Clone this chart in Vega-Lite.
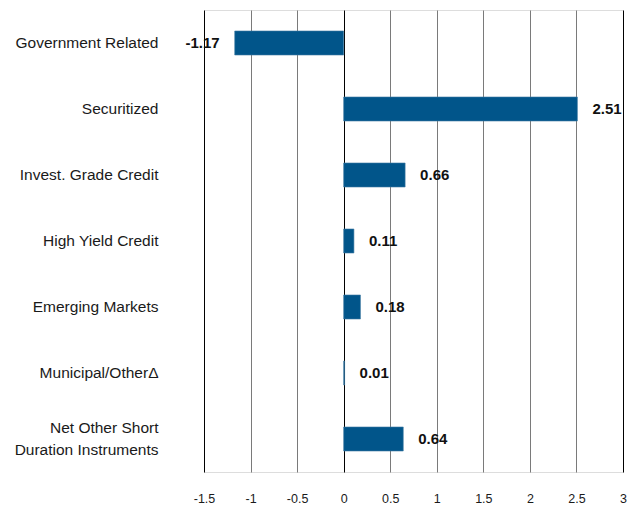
{
  "$schema": "https://vega.github.io/schema/vega-lite/v6.json",
  "width": 419,
  "height": 462,
  "autosize": {"type": "none"},
  "padding": {"left": 204, "top": 10, "right": 20, "bottom": 35},
  "background": "white",
  "title": {
    "text": "Source: PIMCO",
    "orient": "bottom",
    "anchor": "start",
    "frame": "bounds",
    "offset": 1,
    "font": "Liberation Sans",
    "fontSize": 13,
    "fontWeight": "normal",
    "color": "#222222"
  },
  "data": {
    "values": [
      {"category": "Government Related", "value": -1.17, "label": "-1.17"},
      {"category": "Securitized", "value": 2.51, "label": "2.51"},
      {"category": "Invest. Grade Credit", "value": 0.66, "label": "0.66"},
      {"category": "High Yield Credit", "value": 0.11, "label": "0.11"},
      {"category": "Emerging Markets", "value": 0.18, "label": "0.18"},
      {"category": "Municipal/OtherΔ", "value": 0.01, "label": "0.01"},
      {"category": "Net Other Short|Duration Instruments", "value": 0.64, "label": "0.64"}
    ]
  },
  "encoding": {
    "y": {
      "field": "category",
      "type": "nominal",
      "sort": ["Government Related", "Securitized", "Invest. Grade Credit", "High Yield Credit", "Emerging Markets", "Municipal/OtherΔ", "Net Other Short|Duration Instruments"],
      "scale": {"paddingInner": 0.636, "paddingOuter": 0.318},
      "axis": {
        "title": null,
        "domain": false,
        "ticks": false,
        "grid": false,
        "labelPadding": 46,
        "labelFont": "Liberation Sans",
        "labelFontSize": 15.5,
        "labelColor": "#1a1a1a",
        "labelLimit": 300,
        "labelLineHeight": 22,
        "labelOffset": {
          "condition": {"test": "indexof(datum.value, '|') >= 0", "value": -11},
          "value": 0
        },
        "labelExpr": "split(datum.label, '|')"
      }
    }
  },
  "layer": [
    {
      "mark": {"type": "bar", "color": "#01558A", "stroke": "#3f7aa3", "strokeWidth": 0.6},
      "encoding": {
        "x": {
          "field": "value",
          "type": "quantitative",
          "scale": {"domain": [-1.5, 3], "nice": false, "zero": false},
          "axis": {
            "title": null,
            "domain": false,
            "ticks": false,
            "values": [-1.5, -1, -0.5, 0, 0.5, 1, 1.5, 2, 2.5, 3],
            "labelExpr": "replace(format(datum.value, '~g'), '\u2212', '-')",
            "grid": true,
            "gridColor": {
              "condition": {"test": "datum.value === 0 || datum.value === -1.5 || datum.value === 3", "value": "#000000"},
              "value": "#7a7a7a"
            },
            "gridWidth": 1,
            "gridOpacity": 1,
            "labelPadding": 20,
            "labelFont": "Liberation Sans",
            "labelFontSize": 12.5,
            "labelColor": "#1a1a1a",
            "labelFlush": false
          }
        }
      }
    },
    {
      "transform": [{"filter": "datum.value >= 0"}],
      "mark": {
        "type": "text",
        "align": "left",
        "baseline": "middle",
        "dx": 15,
        "font": "Liberation Sans",
        "fontSize": 15,
        "fontWeight": "bold",
        "color": "#111111"
      },
      "encoding": {
        "x": {"field": "value", "type": "quantitative"},
        "text": {"field": "label", "type": "nominal"}
      }
    },
    {
      "transform": [{"filter": "datum.value < 0"}],
      "mark": {
        "type": "text",
        "align": "right",
        "baseline": "middle",
        "dx": -15,
        "font": "Liberation Sans",
        "fontSize": 15,
        "fontWeight": "bold",
        "color": "#111111"
      },
      "encoding": {
        "x": {"field": "value", "type": "quantitative"},
        "text": {"field": "label", "type": "nominal"}
      }
    }
  ]
}
